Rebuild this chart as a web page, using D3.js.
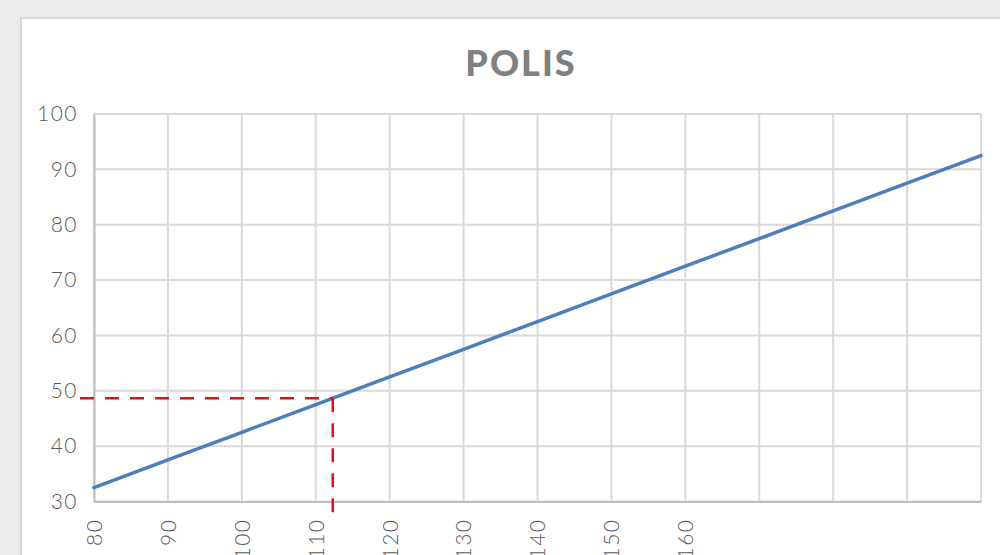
<!DOCTYPE html>
<html>
<head>
<meta charset="utf-8">
<script src="https://cdn.jsdelivr.net/npm/d3@7"></script>
<style>
    html, body { margin: 0; padding: 0; background: #ebebeb; }
    svg { display: block; }
</style>
</head>
<body>
<div id="chart"></div>
<script>
// chart values
const xValues = [80, 90, 100, 110, 120, 130, 140, 150, 160, 170, 180, 190, 200];
const yValues = [32.5, 37.5, 42.5, 47.5, 52.5, 57.5, 62.5, 67.5, 72.5, 77.5, 82.5, 87.5, 92.5];
const xTickLabels = ['80', '90', '100', '110', '120', '130', '140', '150', '160', '', '', '', ''];
const yTicks = [30, 40, 50, 60, 70, 80, 90, 100];
const markerX = [112.3];
const markerY = [48.65];
const title = 'POLIS';

const width = 1000;
const height = 555;
const margin = { top: 114, right: 19, bottom: 54, left: 94 };
const chartWidth = width - margin.left - margin.right;
const chartHeight = 501.5 - margin.top;
const labelFont = 'Lato, "Open Sans", sans-serif';

const svg = d3.select('#chart').append('svg')
    .attr('width', width)
    .attr('height', height);

// white panel
svg.append('rect')
    .attr('x', 21)
    .attr('y', 18)
    .attr('width', width)
    .attr('height', height)
    .attr('fill', '#ffffff')
    .attr('stroke', '#d6d6d6')
    .attr('stroke-width', 2);

svg.append('text')
    .attr('x', 521)
    .attr('y', 76)
    .attr('text-anchor', 'middle')
    .style('fill', '#808080')
    .style('font-family', labelFont)
    .style('font-weight', '900')
    .style('font-size', '36px')
    .style('letter-spacing', '2px')
    .text(title);

const x = d3.scaleLinear()
    .domain([80, 200])
    .range([0, chartWidth]);

const y = d3.scaleLinear()
    .domain([30, 100])
    .range([chartHeight, 0]);

const g = svg.append('g')
    .attr('transform', 'translate(' + margin.left + ',' + margin.top + ')');

// grid
g.append('g')
    .selectAll('line')
    .data(yTicks)
    .enter()
    .append('line')
    .attr('x1', 0)
    .attr('x2', chartWidth)
    .attr('y1', d => y(d))
    .attr('y2', d => y(d))
    .attr('stroke', '#d9d9d9')
    .attr('stroke-width', 2);

g.append('g')
    .selectAll('line')
    .data(xValues)
    .enter()
    .append('line')
    .attr('x1', d => x(d))
    .attr('x2', d => x(d))
    .attr('y1', 0)
    .attr('y2', chartHeight)
    .attr('stroke', '#d9d9d9')
    .attr('stroke-width', 2);

// axes
const yAxis = d3.axisLeft(y).tickValues(yTicks).tickSize(0).tickPadding(16);
g.append('g')
    .attr('class', 'y-axis')
    .call(yAxis)
    .selectAll('text')
    .style('fill', '#595959')
    .style('font-family', labelFont)
    .style('font-weight', '300')
    .style('font-size', '21px')
    .style('letter-spacing', '1.5px');

const xAxis = d3.axisBottom(x)
    .tickValues(xValues)
    .tickFormat((d, i) => xTickLabels[i])
    .tickSize(0)
    .tickPadding(0);
g.append('g')
    .attr('class', 'x-axis')
    .attr('transform', 'translate(0,' + chartHeight + ')')
    .call(xAxis)
    .selectAll('text')
    .attr('transform', 'translate(0,17) rotate(-90)')
    .attr('x', 0)
    .attr('y', 0)
    .attr('dy', '0.35em')
    .attr('text-anchor', 'end')
    .style('fill', '#595959')
    .style('font-family', labelFont)
    .style('font-weight', '300')
    .style('font-size', '21px')
    .style('letter-spacing', '1.5px');

g.selectAll('.y-axis path, .x-axis path').attr('stroke', '#bfbfbf').attr('stroke-width', 2);

// data line
const line = d3.line()
    .x((d, i) => x(xValues[i]))
    .y(d => y(d));

g.append('path')
    .datum(yValues)
    .attr('fill', 'none')
    .attr('stroke', '#4a7ebf')
    .attr('stroke-width', 3.5)
    .attr('stroke-linecap', 'round')
    .attr('d', line);

// red dashed marker
g.append('line')
    .attr('x1', -14)
    .attr('x2', x(markerX[0]))
    .attr('y1', y(markerY[0]))
    .attr('y2', y(markerY[0]))
    .attr('stroke', '#e3101a')
    .attr('stroke-width', 2.5)
    .attr('stroke-dasharray', '14,11');

g.append('line')
    .attr('x1', x(markerX[0]))
    .attr('x2', x(markerX[0]))
    .attr('y1', y(markerY[0]))
    .attr('y2', chartHeight + 16)
    .attr('stroke', '#e3101a')
    .attr('stroke-width', 2.5)
    .attr('stroke-dasharray', '14,11');
</script>
</body>
</html>
